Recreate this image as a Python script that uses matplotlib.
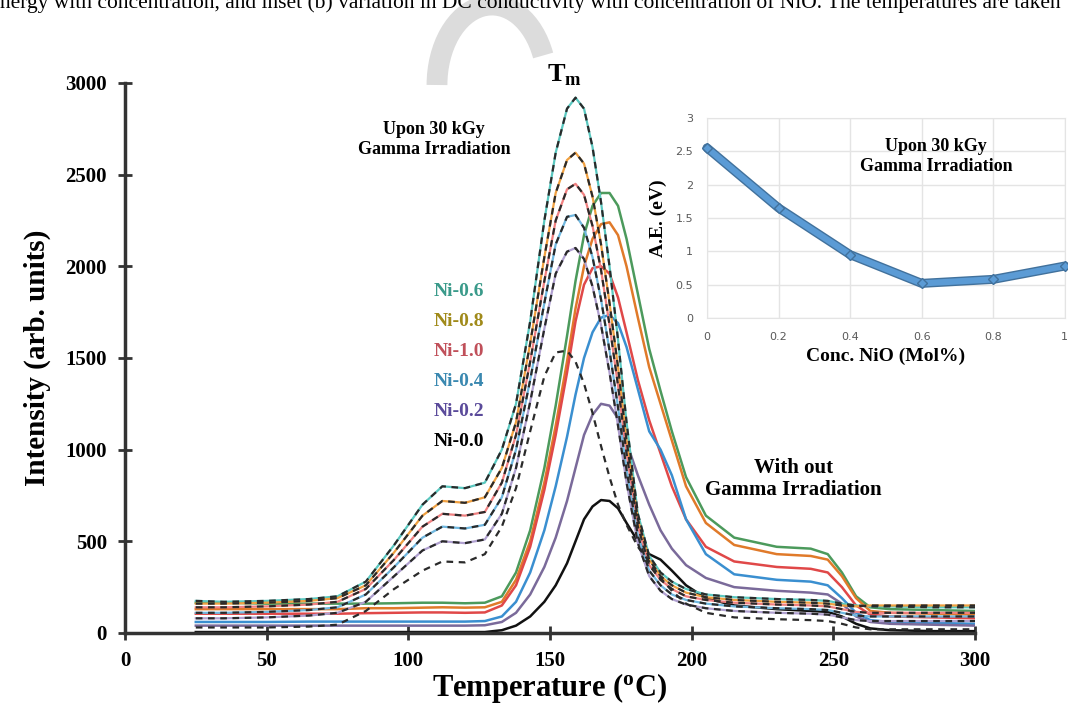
import numpy as np
import matplotlib
matplotlib.use('Agg')
import matplotlib.pyplot as plt
from matplotlib.patches import Arc

# temperature grid (deg C)
temp = [25, 35, 50, 65, 75, 85, 95, 105, 112, 120, 127, 133, 138, 143, 148, 152, 156, 159, 162, 165,
        168, 171, 174, 177, 181, 185, 189, 193, 198, 205, 215, 230, 242, 248, 253, 258, 263, 270, 285, 300]

# without gamma irradiation (solid)
ni06 = [165, 165, 160, 160, 160, 160, 162, 165, 165, 162, 165, 200, 330, 560, 900, 1240, 1620, 1920, 2170, 2330,
        2400, 2400, 2330, 2150, 1850, 1550, 1320, 1100, 850, 640, 520, 470, 460, 430, 330, 200, 140, 130, 125, 120]
ni08 = [130, 130, 130, 130, 130, 135, 135, 138, 140, 138, 140, 170, 290, 500, 820, 1130, 1480, 1770, 2000, 2150,
        2230, 2240, 2170, 2000, 1720, 1450, 1250, 1050, 800, 600, 480, 430, 420, 400, 310, 190, 120, 110, 105, 100]
ni10 = [105, 105, 105, 105, 105, 108, 110, 112, 112, 110, 112, 150, 260, 470, 780, 1080, 1420, 1700, 1900, 1990,
        2000, 1960, 1830, 1640, 1380, 1160, 980, 800, 620, 470, 390, 360, 350, 330, 250, 150, 100, 90, 85, 80]
ni04 = [60, 60, 60, 62, 62, 62, 62, 62, 62, 62, 65, 90, 170, 330, 560, 800, 1070, 1300, 1500, 1640,
        1720, 1735, 1690, 1560, 1330, 1100, 1000, 860, 620, 430, 320, 290, 280, 260, 190, 110, 70, 60, 55, 50]
ni02 = [40, 40, 40, 40, 40, 40, 40, 40, 40, 40, 42, 60, 110, 210, 360, 520, 720, 900, 1080, 1190,
        1250, 1240, 1170, 1040, 860, 700, 560, 460, 370, 300, 250, 230, 220, 210, 160, 90, 60, 50, 45, 40]
ni00 = [5, 5, 5, 5, 5, 5, 5, 5, 5, 5, 5, 15, 40, 90, 170, 260, 380, 500, 620, 690,
        725, 720, 680, 600, 500, 430, 400, 340, 260, 190, 150, 130, 120, 115, 90, 50, 25, 15, 10, 10]

# upon 30 kGy gamma irradiation (dashed)
ni06_g = [175, 170, 175, 185, 200, 280, 480, 700, 800, 790, 820, 1000, 1250, 1700, 2250, 2620, 2860, 2920, 2860, 2650,
          2350, 2000, 1600, 1150, 650, 420, 330, 280, 240, 210, 195, 185, 180, 175, 160, 150, 145, 145, 140, 140]
ni08_g = [160, 160, 165, 175, 190, 260, 440, 640, 720, 710, 740, 900, 1150, 1580, 2050, 2400, 2580, 2620, 2560, 2380,
          2120, 1800, 1450, 1050, 620, 400, 310, 260, 220, 195, 180, 170, 165, 160, 150, 145, 150, 150, 150, 150]
ni10_g = [140, 140, 145, 155, 170, 240, 400, 580, 650, 640, 660, 820, 1080, 1480, 1920, 2250, 2420, 2450, 2390, 2220,
          1980, 1680, 1350, 980, 580, 370, 290, 240, 200, 180, 165, 155, 150, 145, 130, 115, 110, 110, 110, 110]
ni04_g = [110, 110, 115, 125, 140, 210, 360, 520, 580, 570, 590, 740, 1000, 1380, 1800, 2120, 2270, 2280, 2210, 2050,
          1820, 1540, 1230, 890, 530, 340, 260, 210, 180, 160, 145, 135, 130, 125, 110, 95, 90, 90, 90, 90]
ni02_g = [80, 80, 85, 95, 110, 170, 310, 450, 500, 490, 510, 650, 900, 1260, 1660, 1960, 2080, 2100, 2040, 1890,
          1680, 1420, 1130, 820, 490, 310, 230, 185, 155, 135, 120, 110, 105, 100, 85, 70, 65, 65, 65, 65]
ni00_g = [30, 30, 30, 35, 45, 120, 240, 340, 390, 385, 430, 580, 790, 1100, 1400, 1530, 1540, 1480, 1360, 1200,
          1020, 850, 700, 590, 470, 390, 300, 230, 160, 110, 85, 75, 70, 65, 50, 30, 20, 20, 20, 20]

labels = ['Ni-0.6', 'Ni-0.8', 'Ni-1.0', 'Ni-0.4', 'Ni-0.2', 'Ni-0.0']
label_colors = ['#3a9a8a', '#a08a1a', '#c0505a', '#3a88b0', '#5a4a9a', '#000000']
solid_colors = ['#4c9a5c', '#e07a2a', '#e04848', '#3a8fd0', '#7a6a9a', '#111111']
dash_colors = ['#5ac8c0', '#f0a040', '#f08080', '#70b8e0', '#b0a0d0', None]
solid_sets = [ni06, ni08, ni10, ni04, ni02, ni00]
dash_sets = [ni06_g, ni08_g, ni10_g, ni04_g, ni02_g, ni00_g]

# inset: activation energy vs NiO content
conc = [0, 0.2, 0.4, 0.6, 0.8, 1.0]
act_energy = [2.55, 1.65, 0.95, 0.52, 0.58, 0.78]

serif = 'Liberation Serif'
plt.rcParams['mathtext.fontset'] = 'custom'
plt.rcParams['mathtext.rm'] = 'Liberation Serif'
plt.rcParams['mathtext.bf'] = 'Liberation Serif:bold'

fig = plt.figure(figsize=(10.68, 7.1), dpi=100)
ax = fig.add_axes([0.117, 0.1085, 0.796, 0.7746])

for ys, c in zip(solid_sets, solid_colors):
    ax.plot(temp, ys, color=c, lw=1.8, zorder=2)
for ys, c in zip(dash_sets, dash_colors):
    if c is not None:
        ax.plot(temp, ys, color=c, lw=1.6, zorder=3)
    ax.plot(temp, ys, color='#2a2a2a', lw=1.6, ls=(0, (3, 2.5)), zorder=4)

ax.set_xlim(0, 300)
ax.set_ylim(0, 3000)
ax.set_xticks(range(0, 301, 50))
ax.set_yticks(range(0, 3001, 500))
for s in ['top', 'right']:
    ax.spines[s].set_visible(False)
for s in ['left', 'bottom']:
    ax.spines[s].set_linewidth(2.5)
    ax.spines[s].set_color('#333333')
ax.tick_params(direction='inout', length=10, width=2, color='#333333', pad=8)
for lab in ax.get_xticklabels() + ax.get_yticklabels():
    lab.set_fontfamily(serif)
    lab.set_fontweight('bold')
    lab.set_fontsize(15)
ax.set_xlabel('Temperature ($\\mathbf{^{o}}$C)', fontfamily=serif, fontweight='bold', fontsize=22, labelpad=0)
ax.set_ylabel('Intensity (arb. units)', fontfamily=serif, fontweight='bold', fontsize=21, labelpad=10)

# annotations
ax.text(155, 3040, 'T$_{\\mathbf{m}}$', fontfamily=serif, fontweight='bold', fontsize=19,
        ha='center', va='center')
ax.text(109, 2690, 'Upon 30 kGy\nGamma Irradiation', fontfamily=serif, fontweight='bold', fontsize=13,
        ha='center', va='center', linespacing=1.25)
ax.text(236, 840, 'With out\nGamma Irradiation', fontfamily=serif, fontweight='bold', fontsize=15,
        ha='center', va='center', linespacing=1.15)
for i, (lab, c) in enumerate(zip(labels, label_colors)):
    ax.text(118, 1860 - i * 163, lab, color=c, fontfamily=serif, fontweight='bold', fontsize=14,
            ha='center', va='center')

# inset plot
ins = fig.add_axes([0.662, 0.552, 0.335, 0.282])
ins.plot(conc, act_energy, color='#41719c', lw=6.5, solid_capstyle='round', zorder=3, clip_on=False)
ins.plot(conc, act_energy, color='#5b9bd5', lw=4.5, marker='D', ms=5, mfc='#5b9bd5', mec='#41719c',
         solid_capstyle='round', zorder=4, clip_on=False)
ins.set_xlim(0, 1.0)
ins.set_ylim(0, 3)
ins.set_xticks(conc)
ins.set_xticklabels(['0', '0.2', '0.4', '0.6', '0.8', '1'])
ins.set_yticks([0, 0.5, 1, 1.5, 2, 2.5, 3])
ins.set_yticklabels(['0', '0.5', '1', '1.5', '2', '2.5', '3'])
ins.grid(True, color='#e4e4e4', lw=1)
ins.set_axisbelow(True)
for s in ins.spines.values():
    s.set_color('#e4e4e4')
ins.tick_params(length=0, labelsize=8, labelcolor='#595959', pad=10)
ins.set_xlabel('Conc. NiO (Mol%)', fontfamily=serif, fontweight='bold', fontsize=14, labelpad=4)
ins.set_ylabel('A.E. (eV)', fontfamily=serif, fontweight='bold', fontsize=14, labelpad=6)
ins.text(0.64, 2.42, 'Upon 30 kGy\nGamma Irradiation', fontfamily=serif, fontweight='bold', fontsize=13,
         ha='center', va='center', linespacing=1.25)

# cropped caption line and rotate mark from the source page
fig.text(0.0, 1 - 8 / 710, 'nergy with concentration, and inset (b) variation in DC conductivity with concentration '
         'of NiO. The temperatures are taken', fontfamily=serif, fontsize=15.5, ha='left', va='baseline')
fig.patches.append(Arc((492, 625), 110, 160, theta1=30, theta2=180, lw=15, color='#dcdcdc',
                       transform=None, figure=fig, zorder=0))

fig.savefig('out.png', dpi=100)
